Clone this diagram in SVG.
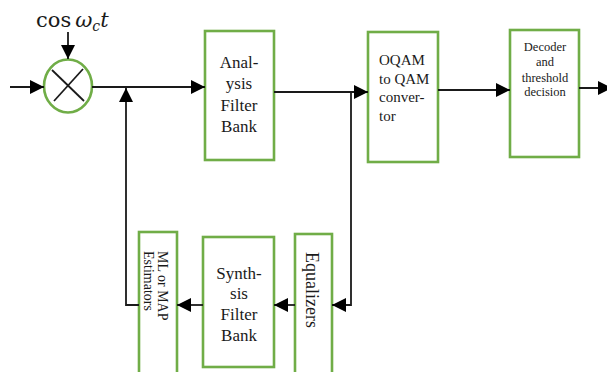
<svg xmlns="http://www.w3.org/2000/svg" width="607" height="372" viewBox="0 0 607 372">
  <style>
    .box { fill: #ffffff; stroke: #70AD47; stroke-width: 2.6; }
    .wire { fill: none; stroke: #1a1a1a; stroke-width: 1.8; }
    .lbl { font-family: "Liberation Serif", "Times New Roman", serif; fill: #1a1a1a; }
    .big { font-size: 17px; text-anchor: middle; }
    .mid { font-size: 15px; }
    .small { font-size: 12.5px; text-anchor: middle; }
    .math { font-family: "DejaVu Serif", "Liberation Serif", serif; fill: #1a1a1a; }
  </style>
  <defs>
    <marker id="arrow" viewBox="0 0 14 14" refX="14" refY="7" markerWidth="14" markerHeight="14" markerUnits="userSpaceOnUse" orient="auto">
      <path d="M0,0 L14,7 L0,14 Z" fill="#000"/>
    </marker>
  </defs>

  <!-- carrier label -->
  <text class="math" x="36" y="27" font-size="21">cos<tspan dx="4" font-style="italic">ω</tspan><tspan font-size="14" dy="4" font-style="italic">c</tspan><tspan dy="-4" font-style="italic">t</tspan></text>

  <!-- mixer -->
  <g id="mixer">
    <ellipse class="box" cx="68" cy="86" rx="24" ry="26.5"/>
    <line class="wire" x1="52" y1="70" x2="84" y2="101"/>
    <line class="wire" x1="83" y1="69" x2="54" y2="101"/>
  </g>

  <g id="analysis">
    <rect class="box" x="205" y="31" width="69" height="129"/>
    <text class="lbl big" x="239" y="68">Anal-</text>
    <text class="lbl big" x="239" y="89">ysis</text>
    <text class="lbl big" x="239" y="111">Filter</text>
    <text class="lbl big" x="239" y="132">Bank</text>
  </g>

  <g id="oqam">
    <rect class="box" x="368" y="32" width="70" height="130"/>
    <text class="lbl mid" x="379" y="65">OQAM</text>
    <text class="lbl mid" x="379" y="84">to QAM</text>
    <text class="lbl mid" x="379" y="102">conver-</text>
    <text class="lbl mid" x="379" y="121">tor</text>
  </g>

  <g id="decoder">
    <rect class="box" x="510" y="30" width="69" height="127"/>
    <text class="lbl small" x="545" y="51">Decoder</text>
    <text class="lbl small" x="545" y="66">and</text>
    <text class="lbl small" x="545" y="82">threshold</text>
    <text class="lbl small" x="545" y="96">decision</text>
  </g>

  <g id="equalizers">
    <rect class="box" x="295" y="234" width="37" height="140"/>
    <text class="lbl" font-size="18" transform="translate(306,252) rotate(90)">Equalizers</text>
  </g>

  <g id="synthesis">
    <rect class="box" x="203" y="237" width="71" height="130"/>
    <text class="lbl big" x="239" y="279">Synth-</text>
    <text class="lbl big" x="239" y="299">sis</text>
    <text class="lbl big" x="239" y="320">Filter</text>
    <text class="lbl big" x="239" y="341">Bank</text>
  </g>

  <g id="estimators">
    <rect class="box" x="139" y="232" width="38" height="142"/>
    <text class="lbl" font-size="14" transform="translate(157.5,251) rotate(90)">ML or MAP</text>
    <text class="lbl" font-size="14" transform="translate(143.5,251) rotate(90)">Estimators</text>
  </g>

  <g id="connectors">
    <line class="wire" x1="68" y1="32" x2="68" y2="59" marker-end="url(#arrow)"/>
    <line class="wire" x1="10" y1="87" x2="44" y2="87" marker-end="url(#arrow)"/>
    <line class="wire" x1="92" y1="87" x2="205" y2="87" marker-end="url(#arrow)"/>
    <polyline class="wire" points="139,305 126,305 126,88" marker-end="url(#arrow)"/>
    <line class="wire" x1="274" y1="92" x2="368" y2="92" marker-end="url(#arrow)"/>
    <polyline class="wire" points="351,93 351,305 332,305" marker-end="url(#arrow)"/>
    <line class="wire" x1="438" y1="90" x2="510" y2="90" marker-end="url(#arrow)"/>
    <line class="wire" x1="579" y1="88" x2="612" y2="88" marker-end="url(#arrow)"/>
    <line class="wire" x1="295" y1="305" x2="274" y2="305" marker-end="url(#arrow)"/>
    <line class="wire" x1="203" y1="305" x2="177" y2="305" marker-end="url(#arrow)"/>
  </g>
</svg>
